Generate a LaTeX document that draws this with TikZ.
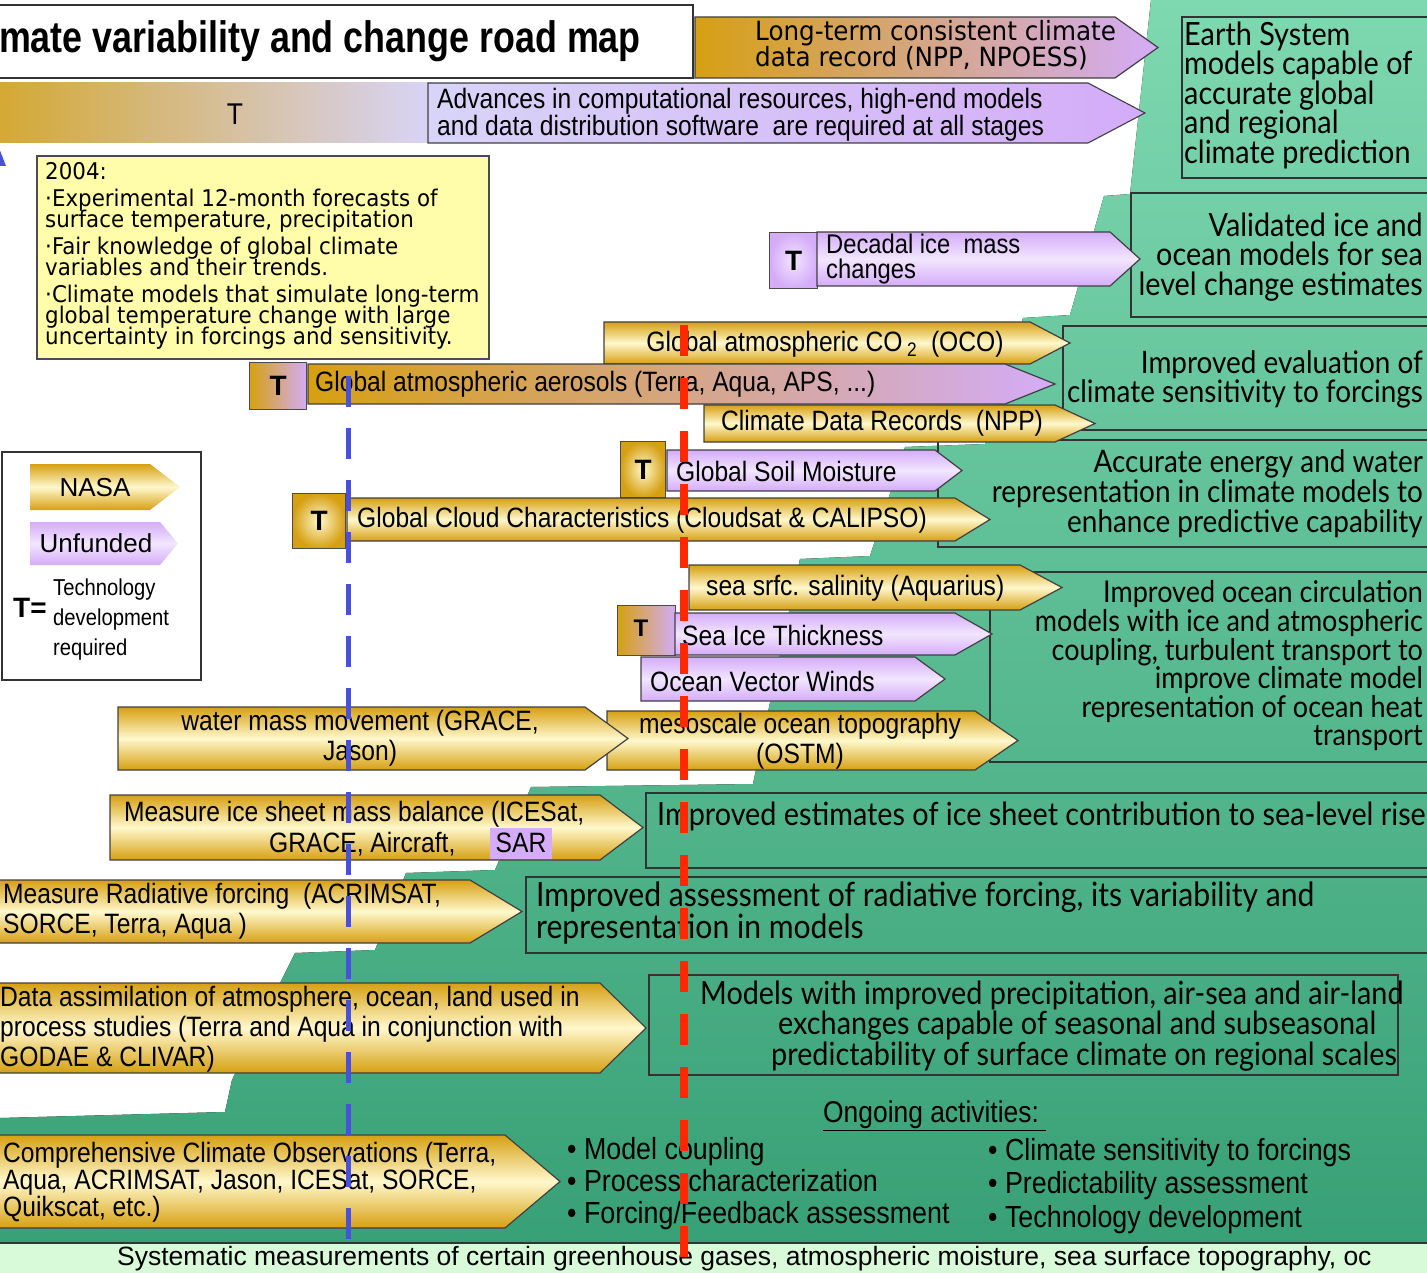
\documentclass[tikz,border=0pt]{standalone}
\usepackage{fontspec}
\setmainfont{Liberation Sans}
\newfontfamily\narrowfont{Liberation Sans}[FakeStretch=0.88]
\newfontfamily\titlefont{Liberation Sans}[FakeStretch=0.815]
\newfontfamily\genfont{DejaVu Sans}[FakeStretch=0.93]
\newfontfamily\gillfont{Lato}[FakeStretch=0.9]
\usepackage{tikz}
\usetikzlibrary{calc}
\definecolor{ngold}{RGB}{214,160,18}
\definecolor{ncream}{RGB}{255,248,205}
\definecolor{ulav}{RGB}{212,172,248}
\definecolor{ulavlt}{RGB}{242,230,255}
\definecolor{memo}{RGB}{255,252,170}
\definecolor{grntop}{RGB}{126,216,176}
\definecolor{grnbot}{RGB}{56,160,118}
\definecolor{stripgrn}{RGB}{216,250,216}
\definecolor{dashred}{RGB}{255,40,0}
\definecolor{dashblue}{RGB}{72,80,220}
\definecolor{bargold}{RGB}{212,168,50}
\definecolor{barlav}{RGB}{216,212,248}
% arrow-shaped bar: style, left x, top y, shoulder x, tip x, bottom y
\newcommand\sigarrow[6]{\path[#1] (#2,#3) -- (#4,#3) -- (#5,{(#3+#6)/2}) -- (#4,#6) -- (#2,#6) -- cycle;}
\newcommand\tightlines{\lineskiplimit=-30pt\lineskip=0pt\relax}
\tikzset{
  goldsig/.style={draw=black!75, line width=1.2pt, top color=ngold, bottom color=ngold, middle color=ncream},
  lavsig/.style={draw=black!75, line width=1.2pt, top color=ulav, bottom color=ulav, middle color=ulavlt},
  mixsig/.style={draw=black!75, line width=1.2pt, left color=ngold, right color=ulav},
  tgold/.style={draw=black!70, line width=1.2pt, inner color=ncream, outer color=ngold},
  tlav/.style={draw=black!70, line width=1.2pt, inner color=ulavlt, outer color=ulav},
  tmix/.style={draw=black!70, line width=1.2pt, left color=ngold, right color=ulav},
  goalbox/.style={draw=black!80, line width=1.1pt},
  armtxt/.style={font=\narrowfont\fontsize{28}{30}\selectfont\tightlines, inner sep=0pt, align=left},
  goaltxt/.style={font=\gillfont\fontsize{32}{29.5}\selectfont, inner sep=0pt, align=left},
  tlabel/.style={font=\bfseries\fontsize{28}{28}\selectfont, inner sep=0pt},
}
\begin{document}
\begin{tikzpicture}[x=1pt, y=-1pt]
  \useasboundingbox (0,0) rectangle (1427,1273);
  \clip (0,0) rectangle (1427,1273);

  % green ramp behind the goals
  \fill[top color=grntop, bottom color=grnbot]
    (1151,0) -- (1130,194) -- (1104,196) -- (1070,315) -- (1023,318) -- (985,444)
    -- (905,447) -- (870,556) -- (800,559) -- (753,784) -- (531,787) -- (495,870)
    -- (406,873) -- (375,950) -- (295,953) -- (232,1080) -- (225,1112) -- (0,1118)
    -- (0,1250) -- (1440,1250) -- (1440,0) -- cycle;
  \draw[fill=stripgrn, draw=black!80, line width=1.2pt] (-5,1243) rectangle (1440,1285);

  % title and top bars
  \draw[fill=white, draw=black!80, line width=1.2pt] (-5,5) rectangle (693,78);
  \node[font=\titlefont\bfseries\fontsize{44}{44}\selectfont, anchor=east, inner sep=0pt] (title) at (641,41) {mate variability and change road map};
  \fill[left color=bargold, right color=barlav] (-5,83) rectangle (432,143);
  \node[font=\narrowfont\fontsize{30}{30}\selectfont, inner sep=0pt] (barT) at (235,114) {T};
  \sigarrow{draw=black!75, line width=1.1pt, left color=barlav, right color=ulav}{428}{83}{1088}{1145}{143}
  \node[armtxt, font=\narrowfont\fontsize{28}{27}\selectfont\tightlines, anchor=west] (advances) at (437,115) {Advances in computational resources, high-end models\\and data distribution software\ \ are required at all stages};
  \sigarrow{mixsig}{695}{17}{1115}{1158}{78}
  \node[font=\genfont\fontsize{26.5}{26.5}\selectfont\tightlines, inner sep=0pt, align=left, anchor=west] (longterm) at (755,45) {Long-term consistent climate\\data record (NPP, NPOESS)};
  \fill[dashblue] (-8,166) -- (-1,148) -- (6,166) -- cycle;

  % 2004 status
  \draw[fill=memo, draw=black!70, line width=1.2pt] (37,156) rectangle (489,359);
  \node[font=\genfont\fontsize{23}{21.3}\selectfont\tightlines, inner sep=0pt, align=left, anchor=north west] (status) at (45,162)
    {2004:\\[5.5pt]
     ·Experimental 12-month forecasts of\\surface temperature, precipitation\\[5.5pt]
     ·Fair knowledge of global climate\\variables and their trends.\\[5.5pt]
     ·Climate models that simulate long-term\\global temperature change with large\\uncertainty in forcings and sensitivity.};

  % goals on the ramp
  \draw[goalbox] (1182,17) rectangle (1440,178);
  \node[goaltxt, anchor=west] (earth) at (1184,95) {Earth System\\models capable of\\accurate global\\and regional\\climate prediction};
  \draw[goalbox] (1131,193) rectangle (1440,317);
  \node[goaltxt, align=right, anchor=east] (validated) at (1423,257) {Validated ice and\\ocean models for sea\\level change estimates};
  \draw[goalbox] (1063,326) rectangle (1440,430);
  \node[goaltxt, font=\gillfont\fontsize{31}{29}\selectfont, align=right, anchor=east] (evaluation) at (1423,379) {Improved evaluation of\\climate sensitivity to forcings};
  \draw[goalbox] (938,440) rectangle (1440,547);
  \node[goaltxt, font=\gillfont\fontsize{31}{30}\selectfont, align=right, anchor=east] (energy) at (1423,494) {Accurate energy and water\\representation in climate models to\\enhance predictive capability};
  \draw[goalbox] (990,572) rectangle (1440,762);
  \node[goaltxt, font=\gillfont\fontsize{30}{28.6}\selectfont, align=right, anchor=east] (ocean) at (1423,666) {Improved ocean circulation\\models with ice and atmospheric\\coupling, turbulent transport to\\improve climate model\\representation of ocean heat\\transport};
  \draw[goalbox] (646,793) rectangle (1440,868);
  \node[goaltxt, anchor=west] (icegoal) at (657,816) {Improved estimates of ice sheet contribution to sea-level rise};
  \draw[goalbox] (526,877) rectangle (1440,953);
  \node[goaltxt, font=\gillfont\fontsize{33.5}{27}\selectfont, anchor=west] (radgoal) at (536,913) {Improved assessment of radiative forcing, its variability and\\representation in models};
  \draw[goalbox] (649,975) rectangle (1398,1075);
  \node[goaltxt, font=\gillfont\fontsize{32}{28}\selectfont, anchor=west] (precip) at (700,1026) {Models with improved precipitation, air-sea and air-land\\\hspace*{78pt}exchanges capable of seasonal and subseasonal\\\hspace*{71pt}predictability of surface climate on regional scales};

  % missions
  \node[tlav, minimum width=48pt, minimum height=56pt, anchor=north west, inner sep=0pt] (decT) at (769,232) {};
  \node[tlabel] at (decT) {T};
  \sigarrow{lavsig}{817}{232}{1110}{1140}{286}
  \node[armtxt, font=\narrowfont\fontsize{27}{25}\selectfont\tightlines, anchor=west] (decadal) at (826,259) {Decadal ice\ \ mass\\changes};

  \sigarrow{goldsig}{604}{322}{1030}{1070}{364}
  \node[armtxt] (co2) at (825,344) {Global atmospheric CO\,\textsubscript{2}\ \ (OCO)};
  \node[tmix, minimum width=57pt, minimum height=47pt, anchor=north west, inner sep=0pt] (aerT) at (249,362) {};
  \node[tlabel] at (aerT) {T};
  \sigarrow{mixsig}{308}{364}{1005}{1055}{404}
  \node[armtxt, anchor=west] (aerosol) at (315,384) {Global atmospheric aerosols (Terra, Aqua, APS, ...)};
  \sigarrow{goldsig}{704}{405}{1055}{1095}{442}
  \node[armtxt, anchor=west] (cdr) at (721,423) {Climate Data Records\ \ (NPP)};

  \node[tgold, minimum width=45pt, minimum height=56pt, anchor=north west, inner sep=0pt] (soilT) at (620,441) {};
  \node[tlabel] at (soilT) {T};
  \sigarrow{lavsig}{667}{450}{935}{962}{491}
  \node[armtxt, anchor=west] (soil) at (676,471) {Global Soil Moisture};
  \node[tgold, minimum width=53pt, minimum height=55pt, anchor=north west, inner sep=0pt] (cloudT) at (292,493) {};
  \node[tlabel] at (cloudT) {T};
  \sigarrow{goldsig}{347}{498}{955}{990}{541}
  \node[armtxt, anchor=west] (cloud) at (357,520) {Global Cloud Characteristics (Cloudsat \& CALIPSO)};

  \sigarrow{goldsig}{689}{565}{1020}{1062}{610}
  \node[armtxt, anchor=west] (salinity) at (706,588) {sea srfc. salinity (Aquarius)};
  \node[tmix, minimum width=58pt, minimum height=50pt, anchor=north west, inner sep=0pt] (iceT) at (617,605) {};
  \node[tlabel, font=\bfseries\fontsize{24}{24}\selectfont] at (641,628) {T};
  \sigarrow{lavsig}{675}{613}{955}{992}{655}
  \node[armtxt, anchor=west] (seaice) at (682,635) {Sea Ice Thickness};
  \sigarrow{lavsig}{641}{657}{915}{945}{701}
  \node[armtxt, anchor=west] (winds) at (650,681) {Ocean Vector Winds};

  \sigarrow{goldsig}{607}{711}{975}{1018}{770}
  \node[armtxt, align=center] (mesoscale) at (800,741) {mesoscale ocean topography\\(OSTM)};
  \sigarrow{goldsig}{118}{707}{585}{628}{770}
  \node[armtxt, align=center] (watermass) at (360,738) {water mass movement (GRACE,\\Jason)};

  \sigarrow{goldsig}{110}{795}{600}{643}{860}
  \node[armtxt, anchor=west] (iceA) at (124,814) {Measure ice sheet mass balance (ICESat,};
  \node[armtxt, anchor=west] (iceB) at (269,844) {GRACE, Aircraft,};
  \node[armtxt, fill=ulav, minimum width=62pt, minimum height=31pt] (sar) at (521,843) {SAR};

  \sigarrow{goldsig}{-5}{880}{470}{522}{943}
  \node[armtxt, anchor=west] (radiative) at (3,911) {Measure Radiative forcing\ \ (ACRIMSAT,\\SORCE, Terra, Aqua )};
  \sigarrow{goldsig}{-5}{983}{600}{646}{1073}
  \node[armtxt, anchor=west] (assim) at (0,1029) {Data assimilation of atmosphere, ocean, land used in\\process studies (Terra and Aqua in conjunction with\\GODAE \& CLIVAR)};
  \sigarrow{goldsig}{-5}{1135}{505}{560}{1228}
  \node[armtxt, font=\narrowfont\fontsize{28}{27}\selectfont\tightlines, anchor=west] (comprehensive) at (3,1182) {Comprehensive Climate Observations (Terra,\\Aqua, ACRIMSAT, Jason, ICESat, SORCE,\\Quikscat, etc.)};

  % ongoing activities
  \node[armtxt, font=\narrowfont\fontsize{30}{30}\selectfont, anchor=west] (ongoing) at (823,1116) {\underline{Ongoing activities:\ }};
  \node[armtxt, font=\narrowfont\fontsize{30.5}{32}\selectfont\tightlines, anchor=west] (actA) at (567,1184) {• Model coupling\\• Process characterization\\• Forcing/Feedback assessment};
  \node[armtxt, font=\narrowfont\fontsize{30.5}{33.5}\selectfont\tightlines, anchor=west] (actB) at (988,1186) {• Climate sensitivity to forcings\\• Predictability assessment\\• Technology development};
  \node[armtxt, font=\fontsize{26.5}{26.5}\selectfont, anchor=west] (systematic) at (117,1259) {Systematic measurements of certain greenhouse gases, atmospheric moisture, sea surface topography, oc};

  % legend
  \draw[draw=black!80, fill=white, line width=1.2pt] (2,452) rectangle (201,680);
  \sigarrow{goldsig, draw=none}{30}{464}{150}{180}{510}
  \node[font=\fontsize{26}{26}\selectfont, inner sep=0pt] (nasa) at (95,488) {NASA};
  \sigarrow{lavsig, draw=none}{30}{522}{160}{178}{565}
  \node[font=\fontsize{26}{26}\selectfont, inner sep=0pt] (unfunded) at (96,543) {Unfunded};
  \node[tlabel, anchor=west] (teq) at (13,608) {T=};
  \node[armtxt, font=\narrowfont\fontsize{23}{30}\selectfont, anchor=west] (techdev) at (53,620) {Technology\\development\\required};

  % milestone lines
  \coordinate (bluetop) at (348,376);
  \coordinate (bluebot) at (348,1256);
  \coordinate (redtop) at (684,325);
  \coordinate (redbot) at (684,1258);
  \draw[dashblue, line width=5pt, dash pattern=on 31pt off 21pt] (bluetop) -- (bluebot);
  \draw[dashred, line width=8pt, dash pattern=on 31pt off 22pt] (redtop) -- (redbot);
\end{tikzpicture}
\end{document}
